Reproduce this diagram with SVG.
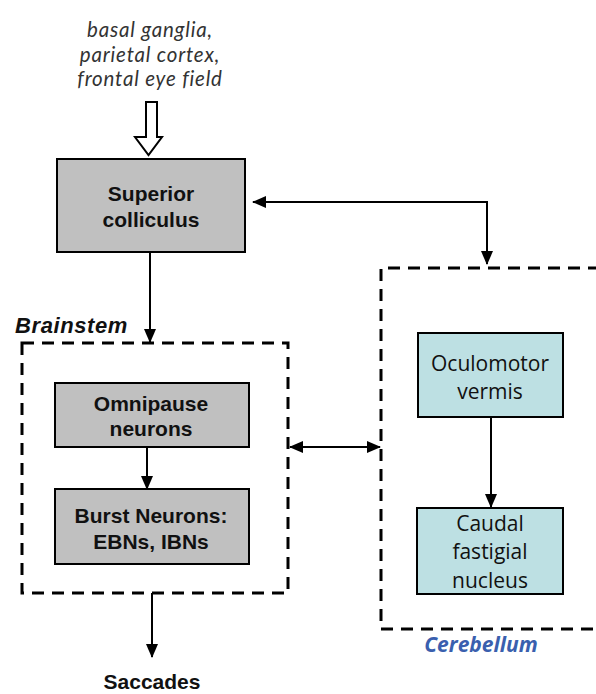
<svg xmlns="http://www.w3.org/2000/svg" width="596" height="694" viewBox="0 0 596 694">
  <defs>
    <marker id="arrow" markerWidth="14" markerHeight="12" refX="13" refY="6" orient="auto" markerUnits="userSpaceOnUse">
      <path d="M0,0 L14,6 L0,12 Z" fill="#000"/>
    </marker>
    <marker id="arrow-start" markerWidth="14" markerHeight="12" refX="1" refY="6" orient="auto" markerUnits="userSpaceOnUse">
      <path d="M14,0 L0,6 L14,12 Z" fill="#000"/>
    </marker>
    <style>
      .box { fill: #c0c0c0; stroke: #000; stroke-width: 2; }
      .cbox { fill: #bde0e3; stroke: #000; stroke-width: 2; }
      .region { fill: none; stroke: #000; stroke-width: 3; stroke-dasharray: 12 8; }
      .lbl { font-family: "Liberation Sans", Arial, sans-serif; font-weight: bold; font-size: 21px; fill: #111; text-anchor: middle; }
      .clbl { font-family: "Open Sans", "Noto Sans", sans-serif; font-size: 21px; fill: #111; text-anchor: middle; }
      .input { font-family: Lato, "Open Sans", sans-serif; font-style: italic; font-size: 20.5px; letter-spacing: 0.8px; fill: #333; text-anchor: middle; }
      .wire { fill: none; stroke: #000; stroke-width: 2; }
    </style>
  </defs>

  <!-- inputs -->
  <g id="inputs">
    <text class="input" x="150" y="37">basal ganglia,</text>
    <text class="input" x="150" y="61.5">parietal cortex,</text>
    <text class="input" x="150" y="86">frontal eye field</text>
    <path d="M146,102 L157,102 L157,137 L162,137 L148.5,155 L135,137 L146,137 Z" fill="#fff" stroke="#000" stroke-width="2"/>
  </g>

  <!-- regions -->
  <g id="brainstem">
    <rect class="region" x="22" y="343" width="266" height="250"/>
    <text x="15" y="333" font-family="'Liberation Sans', Arial, sans-serif" font-weight="bold" font-style="italic" font-size="22" letter-spacing="0.6" fill="#111">Brainstem</text>
  </g>
  <g id="cerebellum">
    <path class="region" d="M600,268 L381,268 L381,629 L600,629"/>
    <text x="481" y="652" text-anchor="middle" font-family="'Open Sans', 'Noto Sans', sans-serif" font-weight="bold" font-style="italic" font-size="21" fill="#3a5fae">Cerebellum</text>
  </g>

  <!-- nodes -->
  <g id="superior-colliculus">
    <rect class="box" x="57" y="159" width="188" height="93"/>
    <text class="lbl" x="151" y="201">Superior</text>
    <text class="lbl" x="151" y="227">colliculus</text>
  </g>
  <g id="omnipause">
    <rect class="box" x="55" y="383" width="194" height="64"/>
    <text class="lbl" x="151" y="411">Omnipause</text>
    <text class="lbl" x="151" y="436">neurons</text>
  </g>
  <g id="burst-neurons">
    <rect class="box" x="55" y="489" width="194" height="75"/>
    <text class="lbl" x="151" y="523">Burst Neurons:</text>
    <text class="lbl" x="151" y="549">EBNs, IBNs</text>
  </g>
  <g id="oculomotor-vermis">
    <rect class="cbox" x="418" y="333" width="145" height="84"/>
    <text class="clbl" x="490" y="371">Oculomotor</text>
    <text class="clbl" x="490" y="399">vermis</text>
  </g>
  <g id="caudal-fastigial">
    <rect class="cbox" x="417" y="508" width="146" height="86"/>
    <text class="clbl" x="490" y="531">Caudal</text>
    <text class="clbl" x="490" y="559">fastigial</text>
    <text class="clbl" x="490" y="588">nucleus</text>
  </g>
  <g id="saccades">
    <text class="lbl" x="152" y="689">Saccades</text>
  </g>

  <!-- connectors -->
  <g id="connectors">
    <path class="wire" d="M150,252 L150,342" marker-end="url(#arrow)"/>
    <path class="wire" stroke-width="1.5" d="M147,447 L147,489" marker-end="url(#arrow)"/>
    <path class="wire" d="M253,202 L487,202 L487,264" marker-start="url(#arrow-start)" marker-end="url(#arrow)"/>
    <path class="wire" d="M290,447 L380,447" marker-start="url(#arrow-start)" marker-end="url(#arrow)"/>
    <path class="wire" d="M491,417 L491,507" marker-end="url(#arrow)"/>
    <path class="wire" d="M152,593 L152,657" marker-end="url(#arrow)"/>
  </g>
</svg>
